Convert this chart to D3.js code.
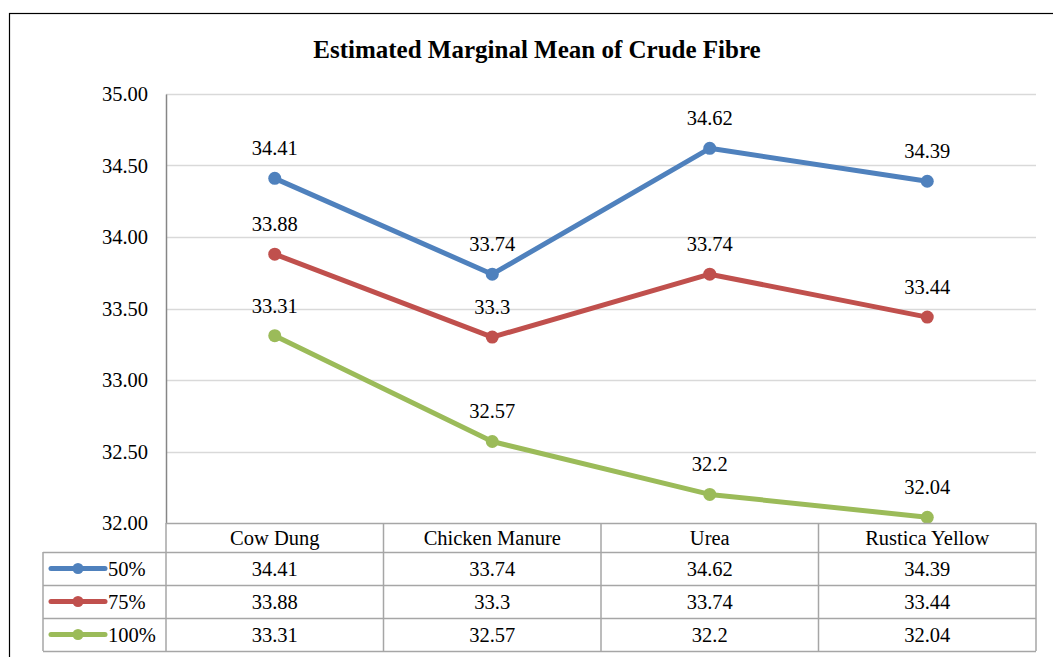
<!DOCTYPE html>
<html>
<head>
<meta charset="utf-8">
<script src="https://cdn.jsdelivr.net/npm/d3@7"></script>
<style>
  body { margin: 0; background: #fff; }
  svg text { font-family: "Liberation Serif", "Times New Roman", serif; fill: #000; }
</style>
</head>
<body>
<div id="chart"></div>
<script>
// chart data
var categories = ["Cow Dung", "Chicken Manure", "Urea", "Rustica Yellow"];
var seriesNames = ["50%", "75%", "100%"];
var values50 = [34.41, 33.74, 34.62, 34.39];
var values75 = [33.88, 33.3, 33.74, 33.44];
var values100 = [33.31, 32.57, 32.2, 32.04];
var yTicks = [32.0, 32.5, 33.0, 33.5, 34.0, 34.5, 35.0];
var colors = ["#4F81BD", "#C0504D", "#9BBB59"];

var width = 1053,
    height = 657,
    margin = {top: 94, right: 17, bottom: 134, left: 166},
    rowH = 33,
    fontSize = "20.5px";

var series = [values50, values75, values100].map(function(v, i){
    return {name: seriesNames[i], color: colors[i], values: v};
});

var svg = d3.select("#chart").append("svg")
    .attr("width", width)
    .attr("height", height);

// outer frame
svg.append("rect")
    .attr("x", 9.5).attr("y", 13.5)
    .attr("width", width).attr("height", height)
    .attr("fill", "none")
    .attr("stroke", "#000")
    .attr("stroke-width", 1.2);

svg.append("text")
    .attr("x", 537).attr("y", 58)
    .attr("text-anchor", "middle")
    .style("font-size", "25px")
    .style("font-weight", "bold")
    .text("Estimated Marginal Mean of Crude Fibre");

var plotW = width - margin.left - margin.right,
    plotH = height - margin.top - margin.bottom;

var x = d3.scaleBand().domain(categories).range([0, plotW]);
var y = d3.scaleLinear().domain([32, 35]).range([plotH, 0]);

var g = svg.append("g")
    .attr("transform", "translate(" + margin.left + "," + margin.top + ")");

// gridlines
g.append("g").selectAll("line")
    .data(yTicks.slice(1))
    .enter().append("line")
    .attr("x1", 0).attr("x2", plotW)
    .attr("y1", function(d){ return Math.round(y(d)) + 0.5; })
    .attr("y2", function(d){ return Math.round(y(d)) + 0.5; })
    .attr("stroke", "#d9d9d9")
    .attr("stroke-width", 1.5);

// y axis
var yAxis = d3.axisLeft(y)
    .tickValues(yTicks)
    .tickSize(0)
    .tickPadding(18)
    .tickFormat(d3.format(".2f"));
var ya = g.append("g").call(yAxis);
ya.select(".domain").attr("stroke", "#868686").attr("stroke-width", 1.5);
ya.selectAll("text")
    .style("font-size", fontSize)
    .style("font-family", "'Liberation Serif', 'Times New Roman', serif");

// lines
var line = d3.line()
    .x(function(d, i){ return x(categories[i]) + x.bandwidth() / 2; })
    .y(function(d){ return y(d); });

var sg = g.selectAll(".series")
    .data(series)
    .enter().append("g")
    .attr("class", "series");

sg.append("path")
    .attr("d", function(d){ return line(d.values); })
    .attr("fill", "none")
    .attr("stroke", function(d){ return d.color; })
    .attr("stroke-width", 5)
    .attr("stroke-linejoin", "round");

sg.selectAll("circle")
    .data(function(d){ return d.values.map(function(v){ return {v: v, color: d.color}; }); })
    .enter().append("circle")
    .attr("cx", function(d, i){ return x(categories[i]) + x.bandwidth() / 2; })
    .attr("cy", function(d){ return y(d.v); })
    .attr("r", 6.5)
    .attr("fill", function(d){ return d.color; });

sg.selectAll(".lbl")
    .data(function(d){ return d.values; })
    .enter().append("text")
    .attr("class", "lbl")
    .attr("x", function(d, i){ return x(categories[i]) + x.bandwidth() / 2; })
    .attr("y", function(d){ return y(d) - 23; })
    .attr("text-anchor", "middle")
    .style("font-size", fontSize)
    .text(function(d){ return d; });

// data table
var t = g.append("g").attr("transform", "translate(0," + plotH + ")");
var tableLeft = 43 - margin.left;
var gridColor = "#a6a6a6";

// header row
t.append("line").attr("x1", 0).attr("x2", plotW).attr("y1", 0.5).attr("y2", 0.5)
    .attr("stroke", gridColor).attr("stroke-width", 1.5);
t.append("line").attr("x1", 0).attr("x2", 0).attr("y1", 0).attr("y2", 29 + rowH * 3)
    .attr("stroke", gridColor).attr("stroke-width", 1.5);
categories.forEach(function(c){
    t.append("line")
        .attr("x1", x(c) + x.bandwidth()).attr("x2", x(c) + x.bandwidth())
        .attr("y1", 0).attr("y2", 29 + rowH * 3)
        .attr("stroke", gridColor).attr("stroke-width", 1.5);
    t.append("text")
        .attr("x", x(c) + x.bandwidth() / 2)
        .attr("y", 22)
        .attr("text-anchor", "middle")
        .style("font-size", fontSize)
        .text(c);
});

// series rows
series.forEach(function(s, i){
    var top = 29 + i * rowH;
    t.append("line").attr("x1", tableLeft).attr("x2", plotW)
        .attr("y1", top + 0.5).attr("y2", top + 0.5)
        .attr("stroke", gridColor).attr("stroke-width", 1.5);
    // legend key
    t.append("line")
        .attr("x1", tableLeft + 8).attr("x2", tableLeft + 62)
        .attr("y1", top + rowH / 2).attr("y2", top + rowH / 2)
        .attr("stroke", s.color).attr("stroke-width", 5)
        .attr("stroke-linecap", "round");
    t.append("circle")
        .attr("cx", tableLeft + 35).attr("cy", top + rowH / 2)
        .attr("r", 5.5).attr("fill", s.color);
    t.append("text")
        .attr("x", tableLeft + 65).attr("y", top + 24)
        .style("font-size", fontSize)
        .text(s.name);
    s.values.forEach(function(v, j){
        t.append("text")
            .attr("x", x(categories[j]) + x.bandwidth() / 2)
            .attr("y", top + 24)
            .attr("text-anchor", "middle")
            .style("font-size", fontSize)
            .text(v);
    });
});
var bottom = 29 + rowH * 3;
t.append("line").attr("x1", tableLeft).attr("x2", plotW)
    .attr("y1", bottom + 0.5).attr("y2", bottom + 0.5)
    .attr("stroke", gridColor).attr("stroke-width", 1.5);
t.append("line").attr("x1", tableLeft).attr("x2", tableLeft)
    .attr("y1", 29).attr("y2", bottom)
    .attr("stroke", gridColor).attr("stroke-width", 1.5);
</script>
</body>
</html>
